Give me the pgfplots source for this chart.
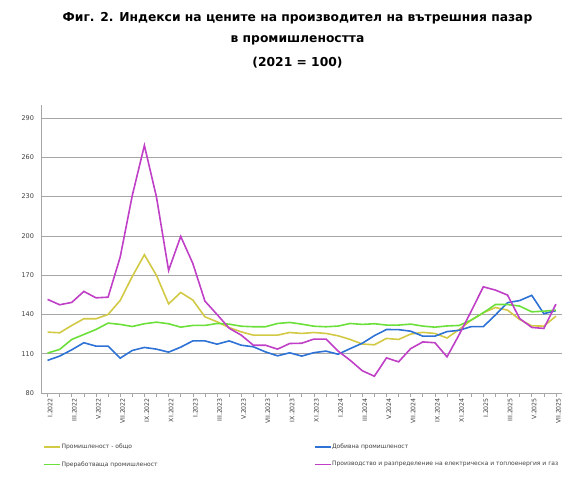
\documentclass[border=0pt]{standalone}
\usepackage{pgfplots}
\pgfplotsset{compat=1.18}
\usepackage{pgfplotstable}
\usepackage{fontspec}
\setmainfont{DejaVu Sans}

\definecolor{cYel}{HTML}{D2C945}
\definecolor{cBlu}{HTML}{2E72D6}
\definecolor{cGrn}{HTML}{6BE03A}
\definecolor{cPur}{HTML}{C03FC7}
\definecolor{cGrid}{HTML}{A6A6A6}
\definecolor{cTxt}{HTML}{404040}

% i: month index from I.2022; Y total, B mining, G manufacturing, P energy
\pgfplotstableread{
i  Y      B      G      P
0  126.5  104.9  110.5  151.5
1  126.0  108.2  113.3  147.4
2  131.6  113.0  120.9  149.2
3  136.7  118.4  124.7  157.6
4  136.7  115.8  128.5  152.7
5  140.0  115.8  133.4  153.2
6  150.7  106.6  132.4  183.8
7  169.0  112.5  130.8  230.9
8  185.6  114.8  132.9  269.1
9  169.8  113.5  134.1  229.6
10 148.1  111.2  132.9  173.6
11 156.8  115.0  130.3  199.6
12 151.0  119.8  131.6  179.0
13 138.2  119.8  131.6  150.2
14 134.4  117.3  133.1  140.0
15 130.0  119.8  132.6  129.5
16 126.7  116.5  131.0  124.2
17 124.2  115.3  130.6  116.5
18 124.2  111.4  130.6  116.5
19 124.2  108.4  133.1  113.5
20 126.2  110.7  133.9  117.8
21 125.5  108.2  132.6  118.0
22 126.2  110.8  131.0  121.2
23 125.5  112.0  130.6  121.2
24 123.7  109.6  131.1  112.0
25 120.9  113.9  133.1  105.0
26 117.4  118.0  132.4  97.0
27 116.8  123.8  132.9  92.8
28 121.7  128.5  131.9  106.8
29 120.9  128.4  131.9  103.8
30 125.0  127.2  132.6  113.9
31 126.3  123.4  131.1  119.0
32 125.5  123.4  130.3  118.4
33 122.0  126.9  131.2  107.6
34 128.5  127.9  131.6  124.5
35 135.7  130.7  135.7  142.5
36 141.3  130.7  141.3  161.1
37 145.3  139.6  147.6  158.6
38 143.3  149.0  147.6  154.8
39 136.2  150.6  146.4  136.9
40 131.3  154.6  142.0  130.1
41 131.1  140.6  142.5  129.3
42 138.7  142.9  143.3  147.9
}\ppi

\begin{document}
\begin{tikzpicture}
\useasboundingbox (0,0) rectangle (587pt,497pt);
\node[font=\bfseries\fontsize{12.3}{14}\selectfont] at (297.5pt,479pt) {Фиг. 2. Индекси на цените на производител на вътрешния пазар};
\node[font=\bfseries\fontsize{12.3}{14}\selectfont] at (297.5pt,456.5pt) {в промишлеността};
\node[font=\bfseries\fontsize{12.3}{14}\selectfont] at (297.5pt,434.5pt) {(2021 = 100)};
\begin{axis}[
  at={(41.5pt,104pt)}, anchor=south west,
  scale only axis, width=520.5pt, height=288pt,
  xmin=-0.5, xmax=42.5, ymin=80, ymax=300,
  axis lines*=left,
  axis line style={cGrid, line width=0.8pt},
  ytick={80,110,...,290},
  ymajorgrids, grid style={cGrid, line width=0.8pt},
  ytick style={draw=none},
  xtick={0,2,...,42},
  minor xtick={1,3,...,41},
  xtick style={cGrid, line width=0.6pt},
  minor x tick style={cGrid, line width=0.6pt},
  tick align=outside,
  major tick length=4pt, minor tick length=4pt,
  xticklabels={I.2022,III.2022,V.2022,VII.2022,IX.2022,XI.2022,
    I.2023,III.2023,V.2023,VII.2023,IX.2023,XI.2023,
    I.2024,III.2024,V.2024,VII.2024,IX.2024,XI.2024,
    I.2025,III.2025,V.2025,VII.2025},
  xticklabel style={rotate=90, anchor=east, font=\fontsize{6.2}{7}\selectfont, text=cTxt, inner sep=1pt, yshift=-2.5pt},
  yticklabel style={font=\fontsize{6.5}{7}\selectfont, text=cTxt},
  /pgf/number format/assume math mode=true,
  legend columns=2,
  legend cell align=left,
  legend style={draw=none, fill=none, at={(axis description cs:-0.002,-0.168)}, anchor=north west,
    font=\fontsize{6}{7.5}\selectfont, text=cTxt, row sep=10.5pt,
    nodes={inner sep=0.4pt}},
  legend image code/.code={\draw[#1, line width=1.6pt] (0pt,0pt) -- (16pt,0pt);},
  every axis plot/.append style={line width=1.6pt},
]
\addplot[cYel] table[x=i, y=Y] {\ppi};
\addlegendentry{\makebox[252pt][l]{Промишленост - общо}}
\addplot[cBlu] table[x=i, y=B] {\ppi};
\addlegendentry{Добивна промишленост}
\addplot[cGrn] table[x=i, y=G] {\ppi};
\addlegendentry{\makebox[252pt][l]{Преработваща промишленост}}
\addplot[cPur] table[x=i, y=P] {\ppi};
\addlegendentry{Производство и разпределение на електрическа и топлоенергия и газ}
\end{axis}
\end{tikzpicture}
\end{document}
